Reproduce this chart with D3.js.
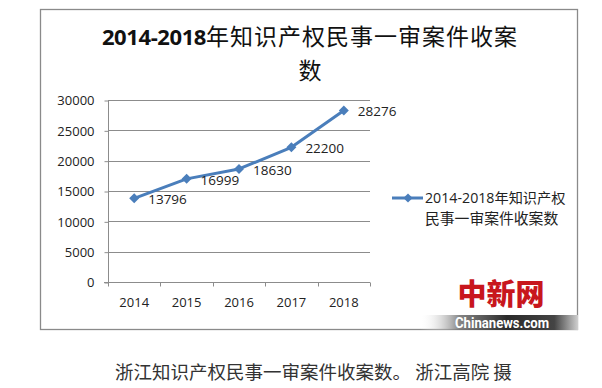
<!DOCTYPE html>
<html>
<head>
<meta charset="utf-8">
<script src="https://cdn.jsdelivr.net/npm/d3@7/dist/d3.min.js"></script>
<style>
  html, body { margin: 0; padding: 0; background: #fff; }
  svg { display: block; }
</style>
</head>
<body>
<svg id="chart" width="602" height="388"></svg>
<script>
// ---- data ----
const years = ["2014", "2015", "2016", "2017", "2018"];
const cases = [13796, 16999, 18630, 22200, 28276];
const yTicks = [0, 5000, 10000, 15000, 20000, 25000, 30000];
const titleNum = "2014-2018";
const titleLine1 = "年知识产权民事一审案件收案";
const titleLine2 = "数";
const legendLine1 = "2014-2018年知识产权";
const legendLine2 = "民事一审案件收案数";
const caption = "浙江知识产权民事一审案件收案数。 浙江高院 摄";

// ---- layout ----
const svg = d3.select("#chart");
const latin = "'Open Sans', 'Noto Sans CJK SC', sans-serif";
const cjk = "'Noto Sans CJK SC', sans-serif";
const blue = "#4A7EBB";
const gridCol = "#8c8c8c";

// chart frame
svg.append("rect")
  .attr("x", 40.5).attr("y", 9.5).attr("width", 537).attr("height", 320)
  .attr("fill", "#fff").attr("stroke", "#8a8a8a").attr("stroke-width", 1.3);

// title
const t1 = svg.append("text").attr("x", 310).attr("y", 45)
  .attr("text-anchor", "middle").attr("fill", "#111");
t1.append("tspan").text(titleNum)
  .attr("font-family", latin).attr("font-weight", 700)
  .attr("font-size", 22).attr("letter-spacing", -0.4);
t1.append("tspan").text(titleLine1)
  .attr("font-family", cjk).attr("font-weight", 400).attr("font-size", 23)
  .attr("letter-spacing", 1);
svg.append("text").attr("x", 310).attr("y", 78.5)
  .attr("text-anchor", "middle").attr("fill", "#111")
  .attr("font-family", cjk).attr("font-size", 23).text(titleLine2);

// scales
const x = d3.scaleBand().domain(years).range([108, 370]).padding(0);
const y = d3.scaleLinear().domain([0, 30000]).range([282, 100]);

// gridlines
svg.append("g").selectAll("line").data(yTicks.filter(d => d > 0)).join("line")
  .attr("x1", 108).attr("x2", 370)
  .attr("y1", d => Math.round(y(d)) + 0.5).attr("y2", d => Math.round(y(d)) + 0.5)
  .attr("stroke", gridCol).attr("stroke-width", 1);

// y axis
const yAxis = d3.axisLeft(y).tickValues(yTicks).tickSize(4).tickPadding(10)
  .tickFormat(d3.format("d"));
const gy = svg.append("g").attr("transform", "translate(108.5,0.5)").call(yAxis);
gy.select(".domain").attr("stroke", gridCol).attr("d", "M0," + y(30000) + "V" + y(0));
gy.selectAll(".tick line").attr("stroke", gridCol);
gy.selectAll(".tick text").attr("font-family", latin).attr("font-size", 13).attr("fill", "#222");

// x axis (ticks at category boundaries)
const gx = svg.append("g").attr("transform", "translate(0," + (Math.round(y(0)) + 0.5) + ")");
gx.append("line").attr("x1", 104).attr("x2", 370).attr("stroke", gridCol);
const bounds = years.map(d => x(d)).concat([x(years[years.length - 1]) + x.bandwidth()]);
gx.selectAll("line.tk").data(bounds).join("line").attr("class", "tk")
  .attr("x1", d => Math.round(d) + 0.5).attr("x2", d => Math.round(d) + 0.5)
  .attr("y1", 0).attr("y2", 4).attr("stroke", gridCol);
gx.selectAll("text").data(years).join("text")
  .attr("x", d => x(d) + x.bandwidth() / 2).attr("y", 24.5)
  .attr("text-anchor", "middle").attr("font-family", latin).attr("font-size", 13)
  .attr("fill", "#222").text(d => d);

// line
const pts = years.map((d, i) => ({ year: d, v: cases[i] }));
const line = d3.line().x(d => x(d.year) + x.bandwidth() / 2).y(d => y(d.v));
svg.append("path").datum(pts).attr("d", line)
  .attr("fill", "none").attr("stroke", blue).attr("stroke-width", 3)
  .attr("stroke-linejoin", "round");

// diamond markers
svg.append("g").selectAll("path").data(pts).join("path")
  .attr("d", d3.symbol().type(d3.symbolSquare).size(50))
  .attr("transform", d => "translate(" + (x(d.year) + x.bandwidth() / 2) + "," + y(d.v) + ") rotate(45)")
  .attr("fill", blue);

// data labels
svg.append("g").selectAll("text").data(pts).join("text")
  .attr("x", d => x(d.year) + x.bandwidth() / 2 + 14)
  .attr("y", d => y(d.v) + 6)
  .attr("font-family", latin).attr("font-size", 13.5).attr("fill", "#222")
  .text(d => d.v);

// legend
const lg = svg.append("g");
lg.append("line").attr("x1", 392).attr("x2", 423).attr("y1", 198).attr("y2", 198)
  .attr("stroke", blue).attr("stroke-width", 3);
lg.append("path").attr("d", d3.symbol().type(d3.symbolSquare).size(42))
  .attr("transform", "translate(408,198) rotate(45)").attr("fill", blue);
lg.append("text").attr("x", 425).attr("y", 203)
  .attr("font-family", latin).attr("font-size", 14.2).attr("fill", "#222").text(legendLine1);
lg.append("text").attr("x", 425).attr("y", 224)
  .attr("font-family", cjk).attr("font-size", 14.8).attr("fill", "#222").text(legendLine2);

// watermark
const defs = svg.append("defs");
const grad = defs.append("linearGradient").attr("id", "wmbar").attr("x1", "0").attr("x2", "1");
grad.append("stop").attr("offset", "0%").attr("stop-color", "#ffffff").attr("stop-opacity", 0);
grad.append("stop").attr("offset", "25%").attr("stop-color", "#777").attr("stop-opacity", 0.9);
grad.append("stop").attr("offset", "55%").attr("stop-color", "#2a2a2a");
grad.append("stop").attr("offset", "85%").attr("stop-color", "#444");
grad.append("stop").attr("offset", "100%").attr("stop-color", "#cfcfcf");
svg.append("rect").attr("x", 420).attr("y", 315).attr("width", 158).attr("height", 15)
  .attr("fill", "url(#wmbar)");
svg.append("text").attr("x", 502).attr("y", 327.5).attr("text-anchor", "middle")
  .attr("font-family", "'Liberation Sans Narrow', 'Roboto', sans-serif").attr("font-weight", 700)
  .attr("font-size", 14).attr("fill", "#fff").attr("textLength", 94).attr("lengthAdjust", "spacingAndGlyphs")
  .text("Chinanews.com");
svg.append("text").attr("x", 501).attr("y", 305).attr("text-anchor", "middle")
  .attr("font-family", cjk).attr("font-weight", 900).attr("font-size", 29)
  .attr("fill", "#c8161d")
  .text("中新网");

// caption
svg.append("text").attr("x", 115).attr("y", 379)
  .attr("font-family", cjk).attr("font-size", 18.5).attr("fill", "#333").text(caption);
</script>
</body>
</html>
